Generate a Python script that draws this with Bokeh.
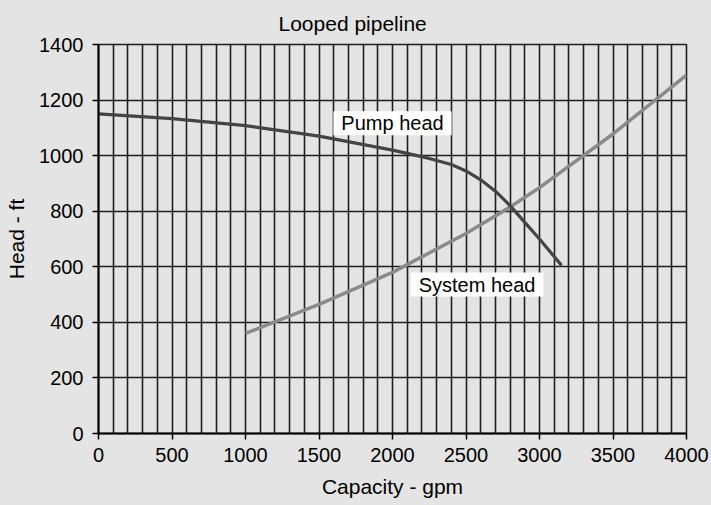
from bokeh.plotting import figure
from bokeh.models import Range1d, SingleIntervalTicker, Label
from bokeh.embed import file_html
from bokeh.resources import INLINE

# data
pump_q = [0, 500, 1000, 1500, 2000, 2250, 2400, 2500, 2600, 2700, 2800, 2900, 3000, 3150]
pump_h = [1150, 1133, 1108, 1070, 1020, 990, 968, 945, 913, 872, 820, 760, 700, 605]
sys_q = [1000, 1500, 2000, 2500, 2800, 3000, 3500, 4000]
sys_h = [360, 465, 580, 720, 815, 885, 1078, 1290]
title_text = "Looped pipeline"

BG = "#e4e4e4"
FONT = "Liberation Sans"

p = figure(width=711, height=505, output_backend="svg", toolbar_location=None,
           x_range=Range1d(0, 4000), y_range=Range1d(0, 1400),
           min_border_left=98, min_border_right=25, min_border_top=44, min_border_bottom=72,
           background_fill_color=BG, border_fill_color=BG)

p.title.text = title_text
p.title.align = "left"
p.title.offset = 180
p.title.standoff = 19
p.title.text_font = FONT
p.title.text_font_size = "21px"
p.title.text_font_style = "normal"
p.title.text_color = "black"

p.xaxis.ticker = SingleIntervalTicker(interval=500, num_minor_ticks=0)
p.yaxis.ticker = SingleIntervalTicker(interval=200, num_minor_ticks=0)
p.xgrid.ticker = SingleIntervalTicker(interval=100, num_minor_ticks=0)
p.ygrid.ticker = SingleIntervalTicker(interval=200, num_minor_ticks=0)

for ax in (p.xaxis[0], p.yaxis[0]):
    ax.axis_line_color = "black"
    ax.axis_line_width = 2
    ax.major_tick_line_color = "black"
    ax.major_tick_line_width = 1.5
    ax.major_tick_in = 0
    ax.major_tick_out = 6
    ax.minor_tick_line_color = None
    ax.major_label_text_font = FONT
    ax.major_label_text_font_size = "20px"
    ax.major_label_text_color = "black"
    ax.axis_label_text_font = FONT
    ax.axis_label_text_font_size = "21px"
    ax.axis_label_text_font_style = "normal"
    ax.axis_label_text_color = "black"

p.xaxis.axis_label = "Capacity - gpm"
p.yaxis.axis_label = "Head - ft"
p.xaxis.major_label_standoff = 8
p.yaxis.major_label_standoff = 9
p.xaxis.axis_label_standoff = 10
p.yaxis.axis_label_standoff = 8

for g in (p.xgrid[0], p.ygrid[0]):
    g.grid_line_color = "#1e1e1e"
    g.grid_line_width = 1.6
    g.grid_line_alpha = 1

p.outline_line_color = "#1e1e1e"
p.outline_line_width = 1.6

p.line(sys_q, sys_h, line_color="#8a8a8a", line_width=3.5)
p.line(pump_q, pump_h, line_color="#444444", line_width=3.2)

p.add_layout(Label(x=2000, y=1117, text="Pump head", text_align="center", text_baseline="middle",
                   text_font=FONT, text_font_size="20px", text_color="black",
                   background_fill_color="white", background_fill_alpha=1.0,
                   padding=(8, 1)))
p.add_layout(Label(x=2575, y=536, text="System head", text_align="center", text_baseline="middle",
                   text_font=FONT, text_font_size="20px", text_color="black",
                   background_fill_color="white", background_fill_alpha=1.0,
                   padding=(8, 1)))

html = file_html(p, INLINE)
html = html.replace("<head>", "<head><style>html, body { background-color: %s; }</style>" % BG, 1)
open("out.html", "w").write(html)
